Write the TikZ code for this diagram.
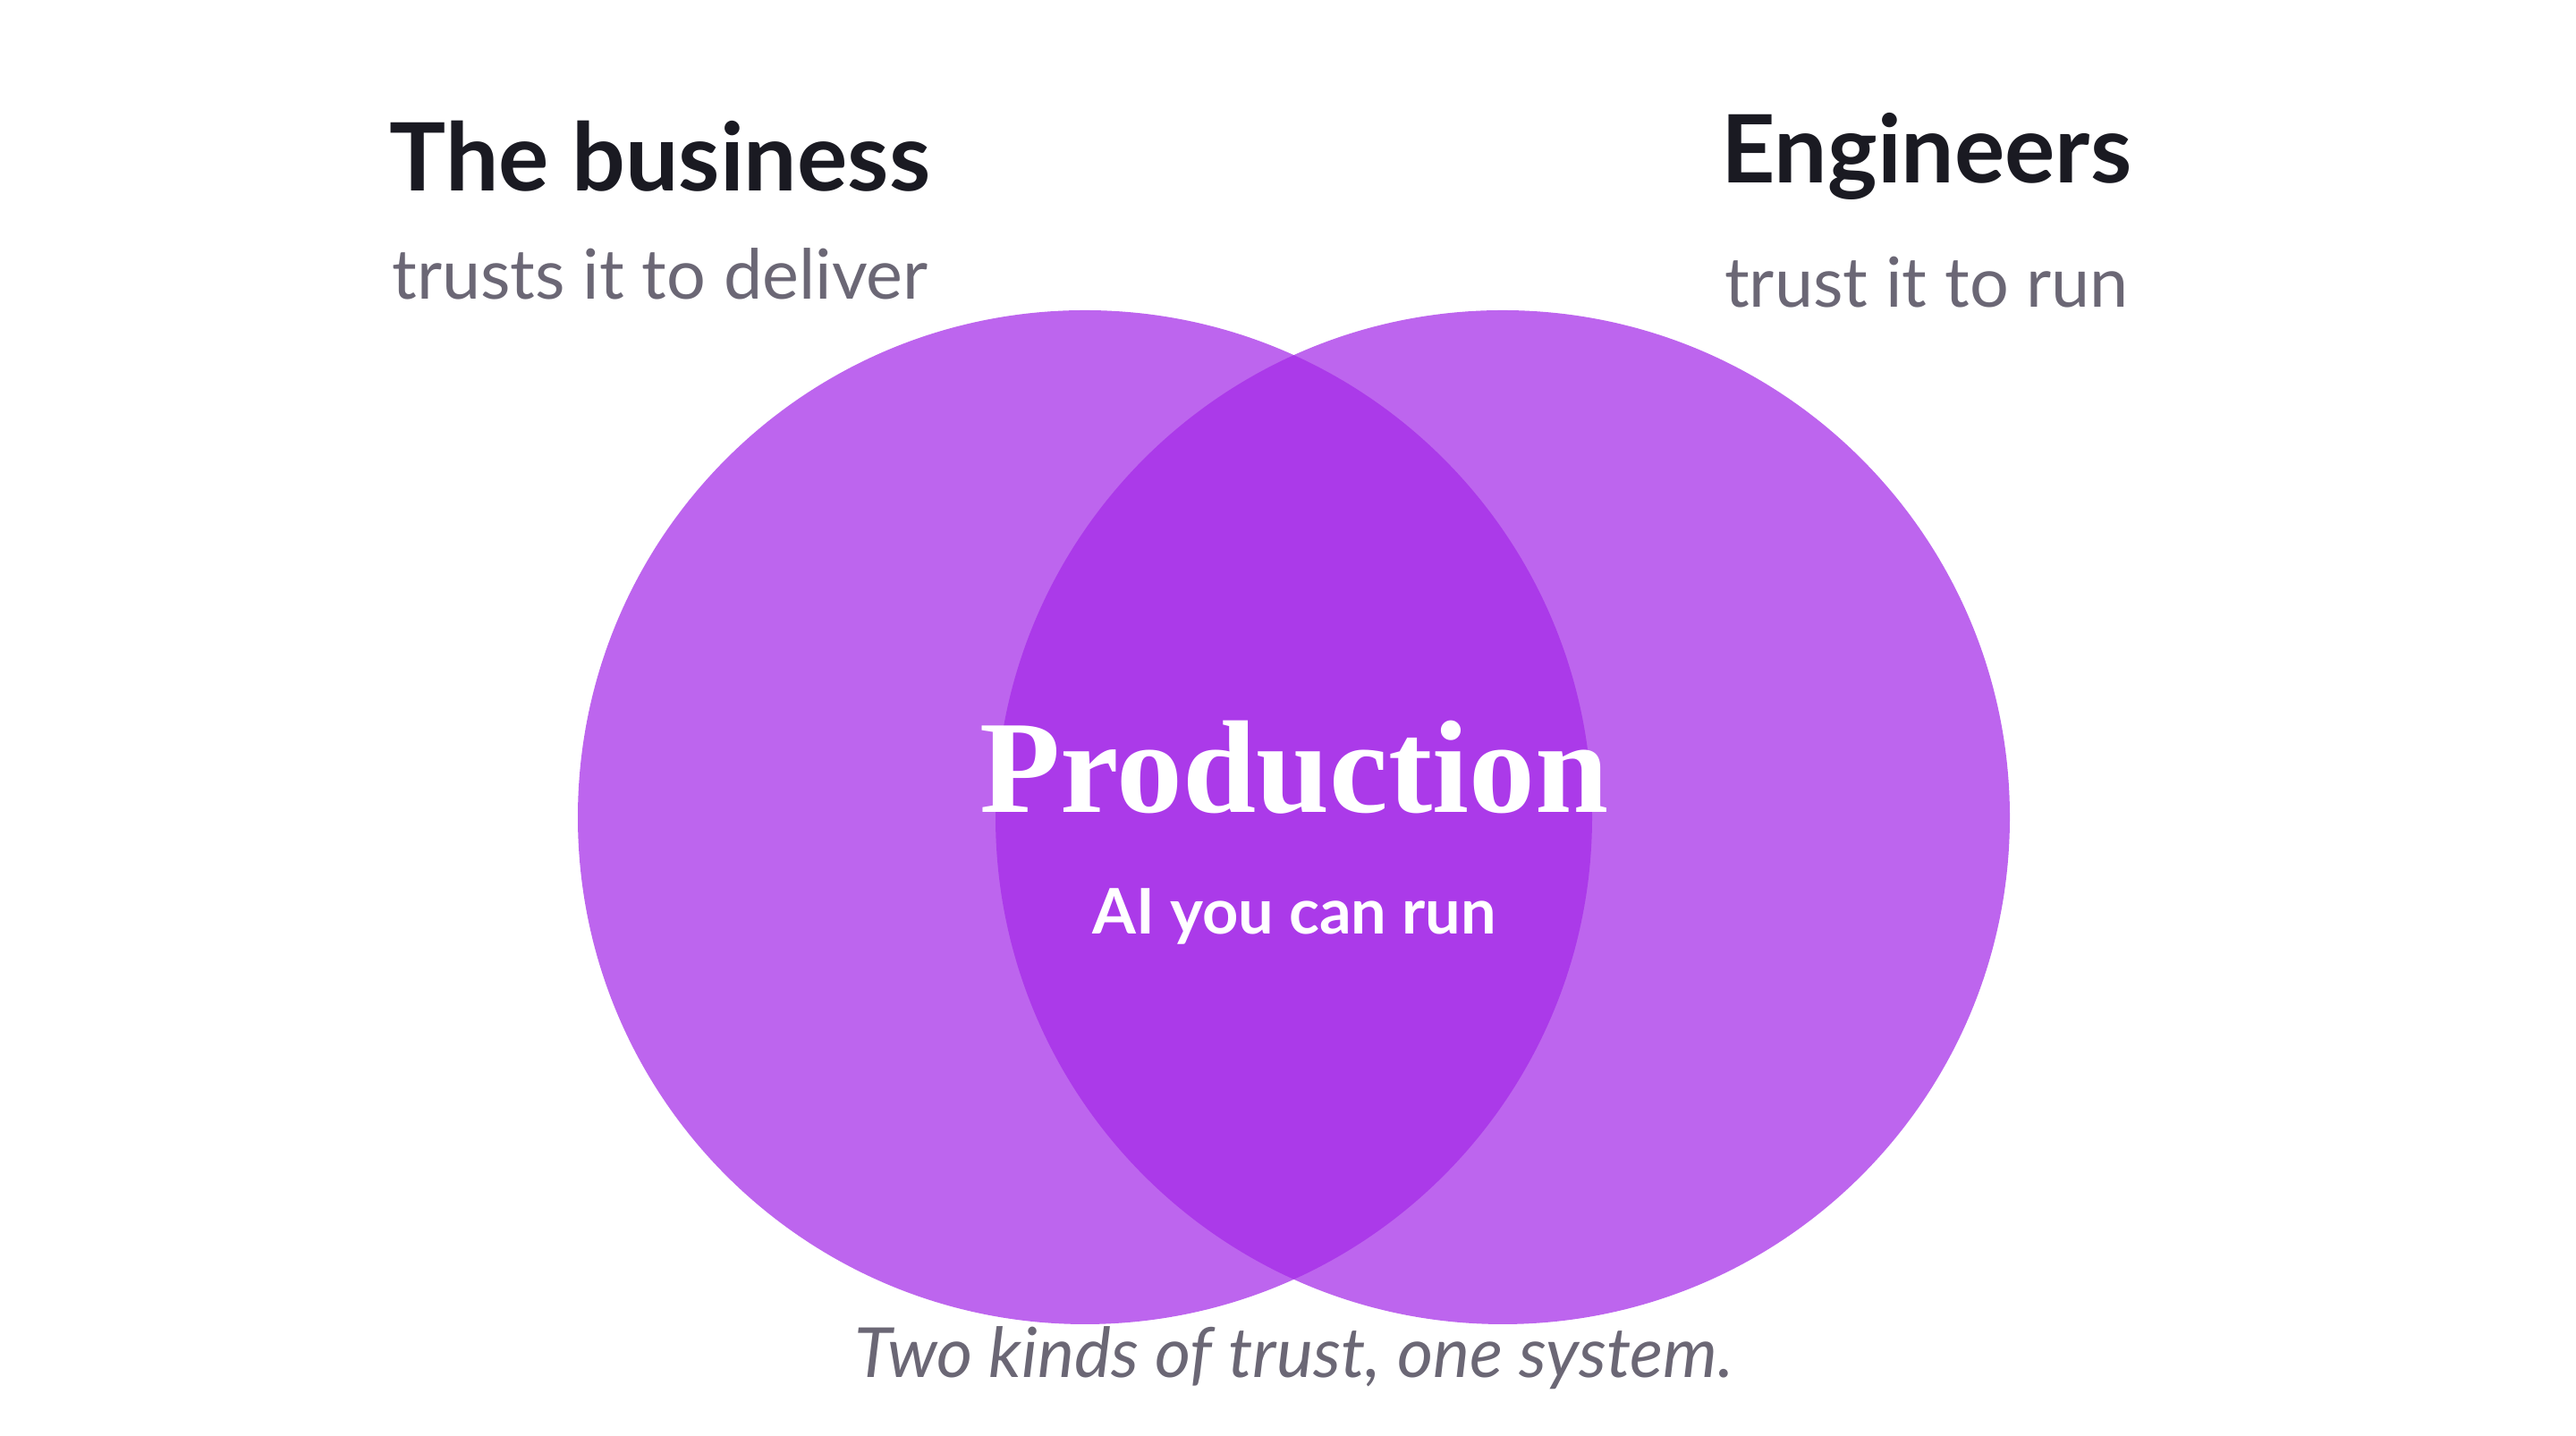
\documentclass[tikz,border=0pt]{standalone}
\usepackage{fontspec}
\setmainfont{Lato}
\newfontfamily\headserif{Liberation Serif}
\usetikzlibrary{positioning}
\definecolor{vennpurple}{RGB}{164,41,231}
\definecolor{labelgrey}{RGB}{107,103,117}
\definecolor{labeldark}{RGB}{26,26,34}
\begin{document}
\begin{tikzpicture}[
		every node/.style={align=center, inner sep=1pt},
		set/.style={fill=vennpurple, fill opacity=0.72, draw=none},
		head/.style={font=\fontsize{30}{36}\selectfont\bfseries, text=labeldark},
		sub/.style={font=\fontsize{22}{26}\selectfont, text=labelgrey},
		]
		\useasboundingbox (0,0) rectangle (28.8,16.06);

		\fill[set] (12.13,6.92) circle (5.67);
		\fill[set] (16.80,6.92) circle (5.67);

		\node (business) [head] at (7.38,14.31) {The business};
		\node (businesssub) [sub, below = 0.55cm of business] {trusts it to deliver};
		\node (engineers) [head] at (21.54,14.31) {Engineers};
		\node (engineerssub) [sub, below = 0.55cm of engineers] {trust it to run};

		\node (production) [font=\fontsize{42}{48}\selectfont\headserif\bfseries, text=white] at (14.47,7.48) {Production};
		\node (ai) [font=\fontsize{20}{24}\selectfont\bfseries, text=white, below = 0.75cm of production] {AI you can run};

		\node (caption) [font=\fontsize{22}{26}\selectfont\itshape, text=labelgrey] at (14.47,0.87) {Two kinds of trust, one system.};
	\end{tikzpicture}
\end{document}
